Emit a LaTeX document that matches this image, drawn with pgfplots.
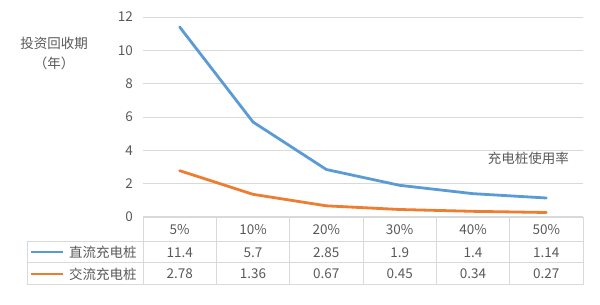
\documentclass[border=0pt]{standalone}
\usepackage{pgfplots}
\pgfplotsset{compat=1.18}
\usepackage{fontspec}
\setmainfont{Noto Sans CJK SC}
\definecolor{blu}{HTML}{5B9BD5}
\definecolor{org}{HTML}{ED7D31}
\definecolor{txt}{HTML}{595959}
\definecolor{grd}{HTML}{D9D9D9}
\begin{document}
\fontsize{13.5}{16}\selectfont
\begin{tikzpicture}[x=1pt,y=1pt]
\path (0,0) rectangle (600,305);
\begin{axis}[
  at={(143pt,88pt)}, anchor=south west,
  scale only axis, width=440pt, height=200pt,
  xmin=-0.5, xmax=5.5, ymin=0, ymax=12,
  axis line style={draw=none},
  major tick length=0pt,
  xtick=\empty,
  ytick={0,2,...,12},
  ymajorgrids, grid style={grd, line width=0.9pt},
  yticklabel style={txt, font=\fontsize{13.5}{16}\selectfont, xshift=-5.5pt},
  /pgf/number format/assume math mode=true,
  clip=false,
]
\addplot[blu, line width=2.8pt, line join=round, line cap=round] coordinates {(0,11.4) (1,5.7) (2,2.85) (3,1.9) (4,1.4) (5,1.14)};
\addplot[org, line width=2.8pt, line join=round, line cap=round] coordinates {(0,2.78) (1,1.36) (2,0.67) (3,0.45) (4,0.34) (5,0.27)};
\end{axis}
% table grid
\draw[grd, line width=1pt] (143,88) -- (583,88);
\foreach \yy in {63,42,20} \draw[grd, line width=1pt] (27,\yy) -- (583,\yy);
\draw[grd, line width=1pt] (27,63) -- (27,20);
\foreach \k in {0,...,6} \draw[grd, line width=1pt] ({143+73.333*\k},88) -- ({143+73.333*\k},20);
% header row
\foreach \lab [count=\i from 0] in {5\%,10\%,20\%,30\%,40\%,50\%}
  \node[txt] at ({143+73.333*(\i+0.5)},75.5) {\lab};
\foreach \v [count=\i from 0] in {11.4,5.7,2.85,1.9,1.4,1.14}
  \node[txt] at ({143+73.333*(\i+0.5)},52.5) {\v};
\foreach \v [count=\i from 0] in {2.78,1.36,0.67,0.45,0.34,0.27}
  \node[txt] at ({143+73.333*(\i+0.5)},31) {\v};
% legend keys
\draw[blu, line width=2.8pt] (31,53) -- (63,53);
\draw[org, line width=2.8pt] (31,31) -- (63,31);
\node[txt, anchor=west, inner sep=0pt] at (69,52.5) {直流充电桩};
\node[txt, anchor=west, inner sep=0pt] at (69,31) {交流充电桩};
% axis titles
\node[txt] at (54,262) {投资回收期};
\node[txt] at (54,242) {（年）};
\node[txt, anchor=east, inner sep=0pt] at (569,147) {充电桩使用率};
\end{tikzpicture}
\end{document}
